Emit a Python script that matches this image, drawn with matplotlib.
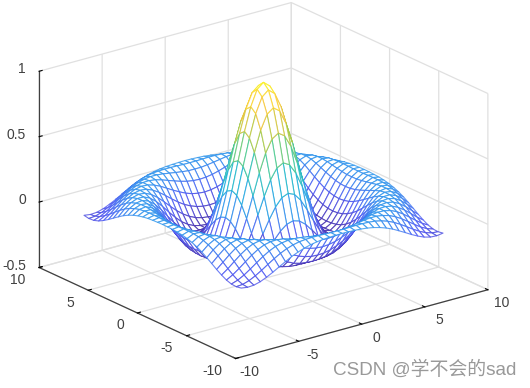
import numpy as np
import matplotlib
matplotlib.use('Agg')
import matplotlib.pyplot as plt
from matplotlib.colors import LinearSegmentedColormap, Normalize
from mpl_toolkits.mplot3d import proj3d

plt.rcParams['font.family'] = ['Liberation Sans', 'Noto Sans CJK SC']
plt.rcParams['axes.unicode_minus'] = False

x_vals = np.arange(-8, 8.5, 0.5)
y_vals = np.arange(-8, 8.5, 0.5)

# heights of one quarter of the mesh, centre first (estimated), the other quarters mirror it
z_quarter = [
    [1.000, .959, .841, .665, .455, .239, .047, -.100, -.189, -.217, -.192, -.128, -.047, .033, .094, .125, .124],
    [.959, .918, .805, .632, .428, .219, .033, -.109, -.192, -.217, -.189, -.125, -.043, .036, .094, .125, .123],
    [.841, .805, .698, .540, .352, .161, -.006, -.131, -.202, -.216, -.182, -.114, -.033, .044, .100, .127, .121],
    [.665, .632, .540, .402, .239, .077, -.063, -.162, -.212, -.211, -.168, -.096, -.016, .057, .107, .128, .118],
    [.455, .428, .352, .239, .109, -.019, -.124, -.192, -.217, -.199, -.145, -.072, .007, .073, .115, .128, .112],
    [.239, .219, .161, .077, -.019, -.109, -.177, -.213, -.212, -.176, -.114, -.040, .033, .090, .123, .126, .103],
    [.047, .033, -.006, -.063, -.124, -.177, -.210, -.216, -.192, -.142, -.075, -.003, .061, .107, .128, .121, .090],
    [-.100, -.109, -.131, -.162, -.192, -.213, -.216, -.196, -.155, -.096, -.029, .036, .089, .121, .128, .110, .073],
    [-.189, -.192, -.202, -.212, -.217, -.212, -.192, -.155, -.104, -.043, .019, .073, .111, .128, .121, .094, .052],
    [-.217, -.217, -.216, -.211, -.199, -.176, -.142, -.096, -.043, .013, .064, .103, .125, .126, .107, .072, .026],
    [-.192, -.189, -.182, -.168, -.145, -.114, -.075, -.029, .019, .064, .100, .123, .128, .115, .085, .044, -.001],
    [-.128, -.125, -.114, -.096, -.072, -.040, -.003, .036, .073, .103, .123, .128, .118, .093, .056, .013, -.029],
    [-.047, -.043, -.033, -.016, .007, .033, .061, .089, .111, .125, .128, .118, .095, .062, .022, -.019, -.054],
    [.033, .036, .044, .057, .073, .090, .107, .121, .128, .126, .115, .093, .062, .025, -.013, -.048, -.075],
    [.094, .094, .100, .107, .115, .123, .128, .128, .121, .107, .085, .056, .022, -.013, -.046, -.072, -.088],
    [.125, .125, .127, .128, .128, .126, .121, .110, .094, .072, .044, .013, -.019, -.048, -.072, -.087, -.091],
    [.124, .123, .121, .118, .112, .103, .090, .073, .052, .026, -.001, -.029, -.054, -.075, -.088, -.091, -.084],
]

xy_ticks = [-10, -5, 0, 5, 10]
xy_labels = ['-10', '-5', '0', '5', '10']
z_ticks = [-0.5, 0, 0.5, 1]
z_labels = ['-0.5', '0', '0.5', '1']

parula_colors = ['#3e26a8', '#4852f4', '#2796ec', '#12b1d6', '#37c897', '#abc739', '#fec337', '#f9fb15']
label_color = '#404040'
grid_color = '#e0e0e0'


def tick_label(ax, x, y, z, label, ha):
    """Tick label at a 3D point, mplot3d's own pad can't put them where the reference has them"""
    px, py, _ = proj3d.proj_transform(x, y, z, ax.get_proj())
    ax.text2D(px, py, label, transform=ax.transData, fontsize=10, color=label_color, ha=ha, va='center')


quarter = np.array(z_quarter)
half = np.vstack([quarter[:0:-1], quarter])
Z = np.hstack([half[:, :0:-1], half])
X, Y = np.meshgrid(x_vals, y_vals)

fig = plt.figure(figsize=(5.3, 3.88), dpi=100)
side = 480
ax = fig.add_axes([(257 - side / 2) / 530, (388 - 187 - side / 2) / 388, side / 530, side / 388],
                  projection='3d', proj_type='ortho')
ax.view_init(elev=20.8, azim=-127.5)
ax.set_box_aspect((315, 320, 208), zoom=1.01)

surf = ax.plot_surface(X, Y, Z, rstride=1, cstride=1, color='white', shade=False, linewidth=0.8)
cmap = LinearSegmentedColormap.from_list('parula', parula_colors)
z_mid = (Z[:-1, :-1] + Z[1:, :-1] + Z[:-1, 1:] + Z[1:, 1:]) / 4
edge_colors = cmap(Normalize(Z.min(), Z.max())(z_mid.ravel()))
edge_colors[:, 3] = 0.78
surf.set_edgecolor(edge_colors)

ax.set_xlim(-10, 10)
ax.set_ylim(-10, 10)
ax.set_zlim(-0.5, 1)
ax.set_xticks(xy_ticks)
ax.set_yticks(xy_ticks)
ax.set_zticks(z_ticks)

for tick, label in zip(xy_ticks, xy_labels):
    tick_label(ax, tick, -11.44, -0.553, label, 'center')
    tick_label(ax, -11.08, tick, -0.567, label, 'right')
for tick, label in zip(z_ticks, z_labels):
    tick_label(ax, -11.04, 10, tick + 0.042, label, 'right')

for axis in [ax.xaxis, ax.yaxis, ax.zaxis]:
    axis.set_tick_params(label1On=False, label2On=False)
    axis.set_pane_color((1, 1, 1, 0))
    axis.pane.set_edgecolor(grid_color)
    axis.line.set_color(label_color)
    axis.line.set_linewidth(0.9)
    axis._axinfo['grid']['color'] = grid_color
    axis._axinfo['grid']['linewidth'] = 0.9
    axis._axinfo['tick']['color'] = label_color
    axis._axinfo['tick']['inward_factor'] = 0
    axis._axinfo['tick']['outward_factor'] = 0.15

fig.text(516 / 530, 1 - 370 / 388, 'CSDN @学不会的sad', fontsize=13.6, color='#999999', ha='right', va='center')

fig.savefig('out.png', dpi=100)
